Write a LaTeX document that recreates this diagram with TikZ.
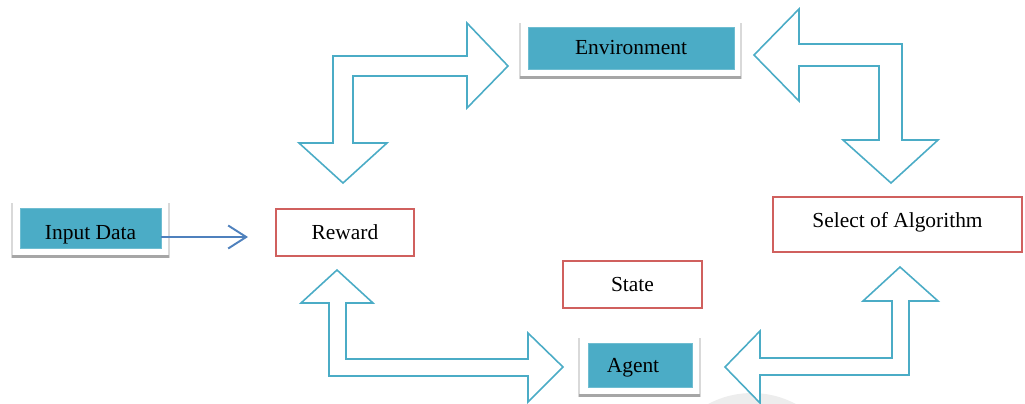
\documentclass[tikz,border=0pt]{standalone}
\usepackage{fontspec}
\setmainfont{Liberation Serif}
\usetikzlibrary{arrows.meta}

\definecolor{tealfill}{HTML}{4BACC6}
\definecolor{redline}{HTML}{D0605E}
\definecolor{inblue}{HTML}{4F81BD}
\definecolor{shadowgray}{HTML}{A6A6A6}
\definecolor{panelgray}{HTML}{D9D9D9}

\begin{document}
\begin{tikzpicture}[x=0.02cm,y=-0.02cm,
tealbox/.style={fill=tealfill,draw=tealfill!80!white,line width=0.4pt,minimum height=0.8cm,inner sep=0pt,font=\fontsize{12.2}{14}\selectfont},
redbox/.style={draw=redline,line width=0.7pt,minimum height=0.94cm,inner sep=0pt,font=\fontsize{12.2}{14}\selectfont},
blockarrow/.style={draw=tealfill,line width=0.9pt,fill=white,line join=miter},
inarrow/.style={draw=inblue,line width=1.1pt,-{Straight Barb[length=0.36cm,width=0.46cm,line width=1.1pt]}}]
\useasboundingbox (0,0) rectangle (1025,403);

% faint disc under the agent
\begin{scope}
\clip (0,0) rectangle (1025,403);
\fill[black!7] (752,486) circle[radius=1.86cm];
\end{scope}

% white panels with a bottom shadow
\foreach \l/\t/\r/\b in {12/203/169/258, 520/23/741/79, 579/338/700/397} {
  \fill[white] (\l,\t) rectangle (\r,\b);
  \draw[panelgray,line width=0.6pt] (\l,\b) -- (\l,\t) (\r,\t) -- (\r,\b);
  \fill[shadowgray] (\l,\b-3) rectangle (\r,\b);
}

\node[tealbox,minimum width=2.82cm,text depth=0pt,text height=0.44cm] (indata) at (90.5,228) {Input Data};
\node[tealbox,minimum width=4.12cm,minimum height=0.84cm] (env) at (631,48) {Environment};
\node[tealbox,minimum width=2.08cm,minimum height=0.88cm,text depth=0pt,text height=0.28cm] (agent) at (640,365) {Agent\kern0.28cm};
\node[redbox,minimum width=2.76cm] (reward) at (345,232.5) {Reward};
\node[redbox,minimum width=2.78cm] (state) at (632.5,284.5) {State};
\node[redbox,minimum width=4.98cm,minimum height=1.1cm,text depth=0pt,text height=0.12cm] (algo) at (897.5,224.5) {Select of Algorithm};

% input to reward
\coordinate (inend) at (248,237);
\draw[inarrow] (inend -| indata.east) -- (inend);

% environment <-> reward
\draw[blockarrow] (343,183) -- (387,143) -- (353,143) -- (353,76) -- (467,76) -- (467,108) -- (508,66)
  -- (467,23) -- (467,56) -- (333,56) -- (333,143) -- (299,143) -- cycle;
% environment <-> algorithm
\draw[blockarrow] (754,55) -- (799,9) -- (799,44) -- (902,44) -- (902,140) -- (938,140) -- (891,183)
  -- (843,140) -- (879,140) -- (879,66) -- (799,66) -- (799,101) -- cycle;
% reward <-> agent
\draw[blockarrow] (337,270) -- (373,303) -- (346,303) -- (346,359) -- (528,359) -- (528,333) -- (563,367)
  -- (528,402) -- (528,376) -- (329,376) -- (329,303) -- (301,303) -- cycle;
% algorithm <-> agent
\draw[blockarrow] (900,267) -- (938,301) -- (909,301) -- (909,375) -- (760,375) -- (760,403) -- (725,367)
  -- (760,331) -- (760,358) -- (892,358) -- (892,301) -- (863,301) -- cycle;
\end{tikzpicture}
\end{document}
